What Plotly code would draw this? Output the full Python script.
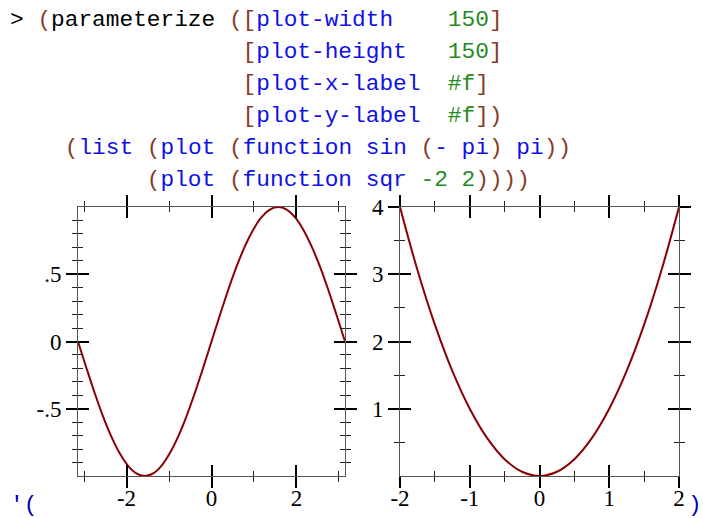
import plotly.graph_objects as go

# left plot: (function sin (- pi) pi)
sin_x = [-3.142, -2.945, -2.749, -2.553, -2.356, -2.160, -1.963, -1.767, -1.571,
         -1.374, -1.178, -0.982, -0.785, -0.589, -0.393, -0.196, 0.0,
         0.196, 0.393, 0.589, 0.785, 0.982, 1.178, 1.374, 1.571,
         1.767, 1.963, 2.160, 2.356, 2.553, 2.749, 2.945, 3.142]
sin_y = [0.0, -0.195, -0.383, -0.556, -0.707, -0.831, -0.924, -0.981, -1.0,
         -0.981, -0.924, -0.831, -0.707, -0.556, -0.383, -0.195, 0.0,
         0.195, 0.383, 0.556, 0.707, 0.831, 0.924, 0.981, 1.0,
         0.981, 0.924, 0.831, 0.707, 0.556, 0.383, 0.195, 0.0]

# right plot: (function sqr -2 2)
sqr_x = [-2.0, -1.75, -1.5, -1.25, -1.0, -0.75, -0.5, -0.25, 0.0,
         0.25, 0.5, 0.75, 1.0, 1.25, 1.5, 1.75, 2.0]
sqr_y = [4.0, 3.063, 2.25, 1.563, 1.0, 0.563, 0.25, 0.063, 0.0,
         0.063, 0.25, 0.563, 1.0, 1.563, 2.25, 3.063, 4.0]

# ticks
sin_xticks = [-2, 0, 2]
sin_xlabels = ["-2", "0", "2"]
sin_xminor = [-3, -1, 1, 3]
sin_yticks = [-0.5, 0, 0.5]
sin_ylabels = ["-.5", "0", ".5"]
sin_yminor = [-0.9, -0.8, -0.7, -0.6, -0.4, -0.3, -0.2, -0.1,
              0.1, 0.2, 0.3, 0.4, 0.6, 0.7, 0.8, 0.9]

sqr_xticks = [-2, -1, 0, 1, 2]
sqr_xlabels = ["-2", "-1", "0", "1", "2"]
sqr_xminor = [-1.5, -0.5, 0.5, 1.5]
sqr_yticks = [1, 2, 3, 4]
sqr_ylabels = ["1", "2", "3", "4"]
sqr_yminor = [0.5, 1.5, 2.5, 3.5]

# REPL input, split into coloured pieces
PN, SYM, VAL, KW = "#843c24", "#1010e6", "#228b22", "#000000"
code_lines = [
    [("> ", KW), ("(", PN), ("parameterize", KW), (" ", KW), ("([", PN),
     ("plot-width", SYM), ("    ", KW), ("150", VAL), ("]", PN)],
    [(" " * 17, KW), ("[", PN), ("plot-height", SYM), ("   ", KW), ("150", VAL), ("]", PN)],
    [(" " * 17, KW), ("[", PN), ("plot-x-label", SYM), ("  ", KW), ("#f", VAL), ("]", PN)],
    [(" " * 17, KW), ("[", PN), ("plot-y-label", SYM), ("  ", KW), ("#f", VAL), ("])", PN)],
    [("    ", KW), ("(", PN), ("list", SYM), (" ", KW), ("(", PN), ("plot", SYM), (" ", KW),
     ("(", PN), ("function", SYM), (" ", KW), ("sin", SYM), (" ", KW), ("(", PN),
     ("-", SYM), (" ", KW), ("pi", SYM), (")", PN), (" ", KW), ("pi", SYM), ("))", PN)],
    [(" " * 10, KW), ("(", PN), ("plot", SYM), (" ", KW), ("(", PN), ("function", SYM),
     (" ", KW), ("sqr", SYM), (" ", KW), ("-2", VAL), (" ", KW), ("2", VAL), ("))))", PN)],
]
RES = "#0000af"

W, H = 703, 518
MONO = "Liberation Mono"
SERIF = "Liberation Serif"


def px(x):
    return x / W


def py(y):
    return 1 - y / H


def axis(domain, anchor, rng, vals, labels, minor_vals, inner=False, overlay=None, standoff=0):
    d = dict(
        domain=domain, anchor=anchor, range=rng, automargin=False,
        tickmode="array", tickvals=vals, ticktext=labels,
        ticks="inside" if inner else "outside", ticklen=11, tickwidth=2, tickcolor="#000",
        minor=dict(tickvals=minor_vals, ticks="inside" if inner else "outside",
                   ticklen=5, tickwidth=1, tickcolor="#222", showgrid=False),
        mirror="ticks", showline=not inner, linecolor="#555", linewidth=1,
        showgrid=False, zeroline=False, showticklabels=not inner,
        tickfont=dict(family=SERIF, size=23, color="#000"),
        ticklabelstandoff=standoff,
    )
    if overlay:
        d["overlaying"] = overlay
    return d


left_x = [px(78), px(345)]
right_x = [px(400), px(679)]
plot_y = [py(476), py(207)]

fig = go.Figure()
fig.add_trace(go.Scatter(x=sin_x, y=sin_y, mode="lines", line=dict(color="#8b0000", width=2, shape="spline"),
                         xaxis="x", yaxis="y"))
fig.add_trace(go.Scatter(x=sqr_x, y=sqr_y, mode="lines", line=dict(color="#8b0000", width=2, shape="spline"),
                         xaxis="x2", yaxis="y2"))
# invisible copies so the inner-tick overlay axes get drawn
for xa, ya, xs, ys in [("x3", "y", sin_x, sin_y), ("x", "y3", sin_x, sin_y),
                       ("x4", "y2", sqr_x, sqr_y), ("x2", "y4", sqr_x, sqr_y)]:
    fig.add_trace(go.Scatter(x=xs, y=ys, mode="lines", opacity=0, line=dict(width=0),
                             xaxis=xa, yaxis=ya))
fig.update_traces(showlegend=False, hoverinfo="skip")

pi = 3.14159265
fig.update_layout(
    xaxis=axis(left_x, "y", [-pi, pi], sin_xticks, sin_xlabels, sin_xminor, standoff=-10),
    yaxis=axis(plot_y, "x", [-1, 1], sin_yticks, sin_ylabels, sin_yminor),
    xaxis3=axis(left_x, "y", [-pi, pi], sin_xticks, sin_xlabels, sin_xminor, True, "x"),
    yaxis3=axis(plot_y, "x", [-1, 1], sin_yticks, sin_ylabels, sin_yminor, True, "y"),
    xaxis2=axis(right_x, "y2", [-2, 2], sqr_xticks, sqr_xlabels, sqr_xminor, standoff=-10),
    yaxis2=axis(plot_y, "x2", [0, 4], sqr_yticks, sqr_ylabels, sqr_yminor),
    xaxis4=axis(right_x, "y2", [-2, 2], sqr_xticks, sqr_xlabels, sqr_xminor, True, "x2"),
    yaxis4=axis(plot_y, "x2", [0, 4], sqr_yticks, sqr_ylabels, sqr_yminor, True, "y2"),
)

annotations = []
for i, parts in enumerate(code_lines):
    txt = "".join('<span style="color:%s">%s</span>' % (c, s.replace(" ", "\u00a0")) for s, c in parts)
    annotations.append(dict(text=txt, x=px(8), y=py(20 + 32 * i), xref="paper", yref="paper",
                            xanchor="left", yanchor="middle", showarrow=False, align="left",
                            font=dict(family=MONO, size=22.8, color="#000")))
annotations.append(dict(text="'(", x=px(8), y=py(505), xref="paper", yref="paper",
                        xanchor="left", yanchor="middle", showarrow=False,
                        font=dict(family=MONO, size=22.8, color=RES)))
annotations.append(dict(text=")", x=px(686), y=py(505), xref="paper", yref="paper",
                        xanchor="left", yanchor="middle", showarrow=False,
                        font=dict(family=MONO, size=22.8, color=RES)))

fig.update_layout(
    width=W, height=H, autosize=False,
    margin=dict(l=0, r=0, t=0, b=0, pad=0, autoexpand=False),
    paper_bgcolor="white", plot_bgcolor="white",
    showlegend=False,
    annotations=annotations,
)

fig.write_html("out.html", config={"displayModeBar": False},
               post_script="document.body.style.margin='0';document.body.style.overflow='hidden';")
